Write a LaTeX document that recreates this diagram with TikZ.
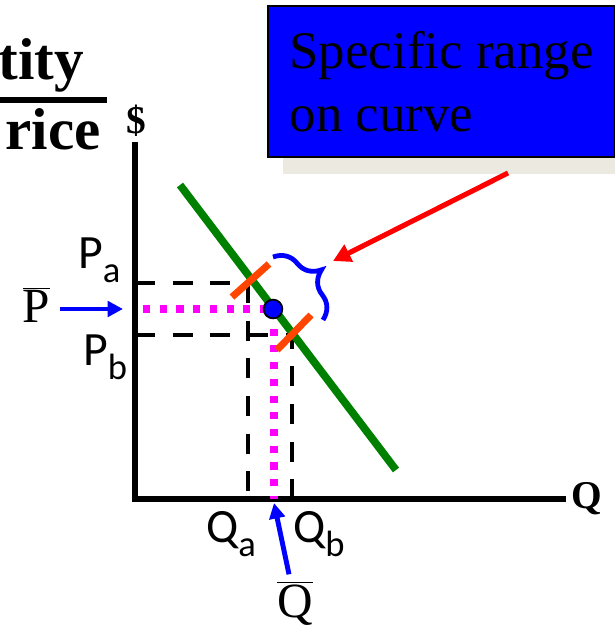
\documentclass[tikz,border=0pt]{standalone}
\usepackage{fontspec}
\setmainfont{Liberation Serif}
\newfontfamily\labelfont{Carlito}
\usetikzlibrary{arrows.meta,shadows,decorations.pathreplacing,calc}
\definecolor{demandgreen}{RGB}{0,128,0}
\definecolor{tickorange}{RGB}{255,69,0}
\definecolor{meanpink}{RGB}{255,0,255}
\definecolor{shadowbeige}{RGB}{236,233,224}
\newcommand{\sublabel}[2]{#1\raisebox{-10pt}{\fontsize{26}{26}\selectfont #2}}

\begin{document}
\begin{tikzpicture}[
    x=0.025cm, y=-0.025cm,
    callout/.style={
        draw=black,
        line width=1.4pt,
        fill=blue,
        align=left,
        inner xsep=0.525cm,
        minimum width=8.675cm,
        minimum height=3.775cm,
        font=\fontsize{37.6}{44.8}\selectfont,
        drop shadow={shadow xshift=0.375cm, shadow yshift=-0.425cm,
                     fill=shadowbeige, opacity=1}
    },
    titletext/.style={inner sep=0pt, anchor=base east,
        font=\fontsize{42}{42}\selectfont\bfseries},
    axislab/.style={inner sep=0pt, font=\fontsize{28}{28}\selectfont\bfseries},
    sublab/.style={inner sep=0pt, anchor=base west,
        font=\labelfont\fontsize{34}{34}\selectfont},
    barlab/.style={inner sep=0pt, anchor=base,
        font=\fontsize{35}{35}\selectfont},
    axisline/.style={line width=4pt},
    guide/.style={line width=3.3pt, dash pattern=on 14.2pt off 12.6pt},
    meanline/.style={meanpink, line width=5pt, dash pattern=on 5pt off 6.9pt,
        dash phase=6.2pt},
    demand/.style={demandgreen, line width=5.5pt},
    rangetick/.style={tickorange, line width=5pt},
    eqdot/.style={circle, draw=black, line width=1.2pt, fill=blue,
        inner sep=0pt, minimum size=0.47cm},
    markarrow/.style={blue, line width=3.5pt,
        -{Triangle[length=11pt, width=11pt]}},
    callarrow/.style={red, line width=3.6pt,
        -{Triangle[length=12.5pt, width=13pt]}},
    rangebrace/.style={blue, line width=3.4pt, decorate,
        decoration={brace, amplitude=0.75cm}}
]
\useasboundingbox (0,0) rectangle (615,635);

% title, cut at the left edge
\node[titletext] (qtytitle) at (84,80) {tity};
\node[titletext] (pricetitle) at (101,150) {rice};
\draw[line width=4.5pt] (0,100) -- (107,100);

% axes
\coordinate (origin) at (135,499);
\coordinate (ytop) at (135,142);
\coordinate (xend) at (566,499);
\draw[axisline] (ytop) |- (xend);
\node[axislab, anchor=base] (dollar) at (136,134) {\$};
\node[axislab, anchor=base west] (qaxis) at (571,508) {Q};

% points on the axes
\coordinate (pa) at (135,283);
\coordinate (pb) at (135,335);
\coordinate (pbar) at (135,309);
\coordinate (qa) at (248,499);
\coordinate (qb) at (292,499);
\coordinate (qbar) at (274,499);

\draw[guide] (pa) -| (qa);
\draw[guide] (pb) -| (qb);
\draw[meanline] (pbar) -| (qbar);

% demand curve and the range on it
\coordinate (d1) at (180,185);
\coordinate (d2) at (396,470);
\draw[demand] (d1) -- (d2);
\coordinate (ta1) at (232,297);
\coordinate (ta2) at (269,264);
\coordinate (tb1) at (277,350);
\coordinate (tb2) at (311,315);
\draw[rangetick] (ta1) -- (ta2);
\draw[rangetick] (tb1) -- (tb2);
\node[eqdot] (eq) at (273,309) {};

% labels
\node[sublab] (palab) at (78,268) {\sublabel{P}{a}};
\node[sublab] (pblab) at (83,365) {\sublabel{P}{b}};
\node[sublab] (qalab) at (206,542) {\sublabel{Q}{a}};
\node[sublab] (qblab) at (293,542) {\sublabel{Q}{b}};
\node[barlab] (pbarlab) at (36.5,322) {$\overline{\hbox{P}}$};
\node[barlab] (qbarlab) at (295,617) {$\overline{\hbox{Q}}$};

\coordinate (pbartip) at (123,309);
\coordinate (qbartip) at (274,503);
\draw[markarrow, shorten <=7pt] (pbarlab.east |- pbartip) -- (pbartip);
\draw[markarrow] ([xshift=-0.15cm, yshift=0.175cm]qbarlab.north) -- (qbartip);

% brace and callout
\coordinate (bracestart) at (273,257);
\coordinate (braceend) at (323,320);
\draw[rangebrace] (bracestart) -- (braceend);

\node[callout, anchor=north west] (rangebox) at (267,5) {Specific range\\on curve};
\coordinate (calloutfoot) at (508,173);
\coordinate (bracetip) at (333,261);
\draw[callarrow] (calloutfoot) -- (bracetip);
\end{tikzpicture}
\end{document}
